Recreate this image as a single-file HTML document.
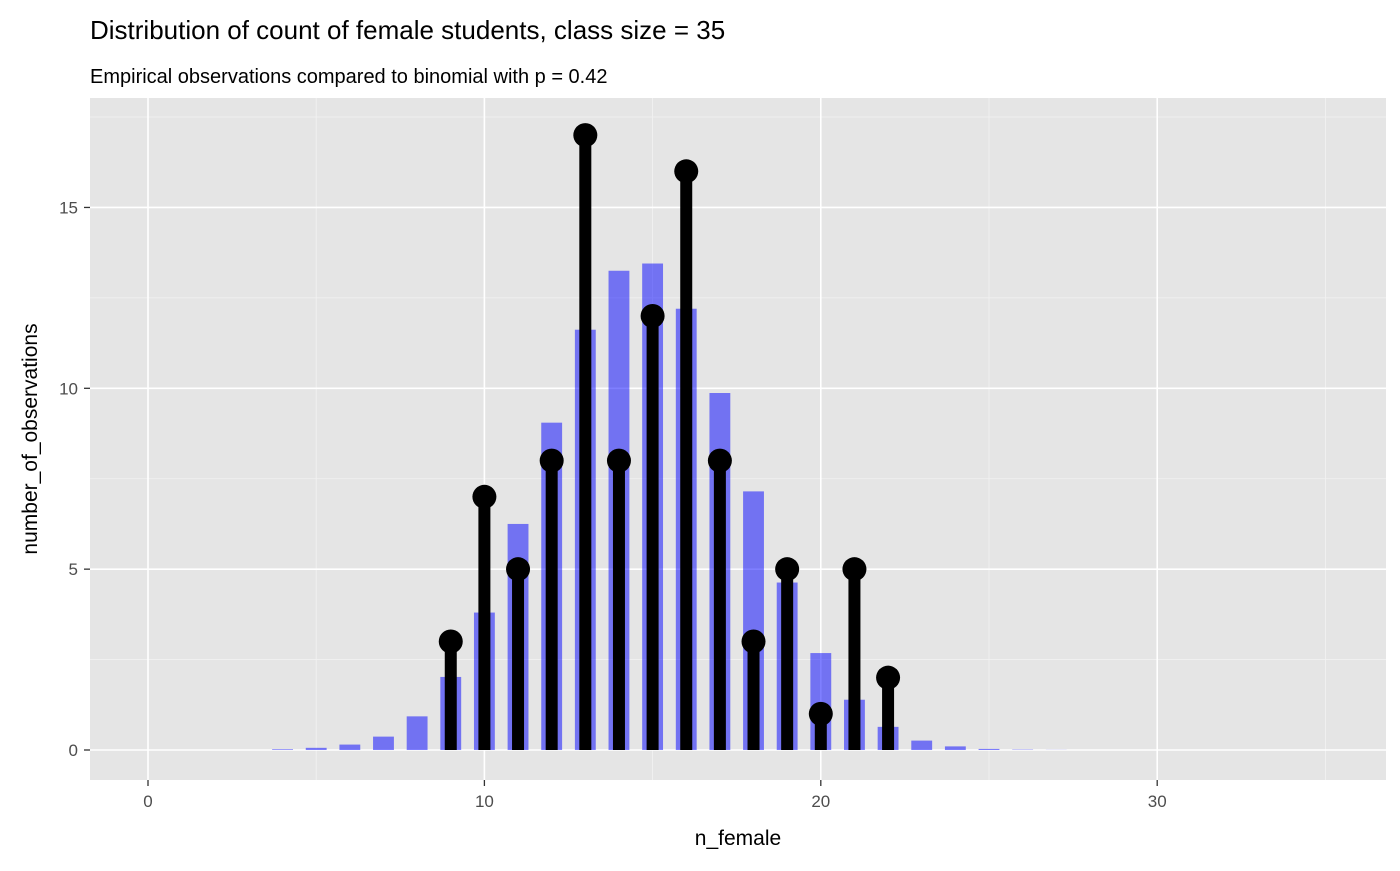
<!DOCTYPE html>
<html><head><meta charset="utf-8"><style>
body{margin:0;background:#fff;font-family:"Liberation Sans",Arial,sans-serif;}
</style></head><body>
<svg id="chart" width="1400" height="866" xmlns="http://www.w3.org/2000/svg">
<text x="90" y="39" font-size="26" fill="#000">Distribution of count of female students, class size = 35</text>
<text x="90" y="83" font-size="20" fill="#000">Empirical observations compared to binomial with p = 0.42</text>
<rect x="90" y="98" width="1296" height="682" fill="#e5e5e5"/>
<g id="grid"></g><g id="bars"></g><g id="lolli"></g><g id="axes"></g>
<text x="738" y="845" font-size="21" text-anchor="middle" fill="#000">n_female</text>
<text transform="translate(37,439) rotate(-90)" font-size="21" text-anchor="middle" fill="#000">number_of_observations</text>
</svg>
<script>
const binomX=[4,5,6,7,8,9,10,11,12,13,14,15,16,17,18,19,20,21,22,23,24,25,26,27];
const binomY=[0.02,0.06,0.15,0.37,0.93,2.02,3.8,6.25,9.05,11.62,13.25,13.45,12.2,9.87,7.15,4.63,2.68,1.39,0.64,0.26,0.1,0.03,0.01,0.003];
const obsX=[9,10,11,12,13,14,15,16,17,18,19,20,21,22];
const obsY=[3,7,5,8,17,8,12,16,8,3,5,1,5,2];
const xTicks=[0,10,20,30];
const yTicks=[0,5,10,15];
const NS="http://www.w3.org/2000/svg";
const X=v=>148+v*33.64;
const Y=v=>750-v*36.17;
function mk(p,t,a){const e=document.createElementNS(NS,t);for(const k in a)e.setAttribute(k,a[k]);document.getElementById(p).appendChild(e);return e;}
[5,15,25,35].forEach(v=>{const e=mk('grid','line',{x1:X(v),x2:X(v),y1:98,y2:780,stroke:'#f2f2f2','stroke-width':0.8});

});
[2.5,7.5,12.5,17.5].forEach(v=>{const e=mk('grid','line',{x1:90,x2:1386,y1:Y(v),y2:Y(v),stroke:'#f2f2f2','stroke-width':0.8});

});
xTicks.forEach(v=>{const e=mk('grid','line',{x1:X(v),x2:X(v),y1:98,y2:780,stroke:'#fff','stroke-width':1.6});


const t=mk('axes','line',{x1:X(v),x2:X(v),y1:780,y2:786,stroke:'#333','stroke-width':1.3});


const l=mk('axes','text',{x:X(v),y:807,'font-size':17,'text-anchor':'middle',fill:'#4d4d4d'});l.textContent=v;

});
yTicks.forEach(v=>{const e=mk('grid','line',{x1:90,x2:1386,y1:Y(v),y2:Y(v),stroke:'#fff','stroke-width':1.6});


const t=mk('axes','line',{x1:84,x2:90,y1:Y(v),y2:Y(v),stroke:'#333','stroke-width':1.3});


const l=mk('axes','text',{x:78,y:Y(v)+6,'font-size':17,'text-anchor':'end',fill:'#4d4d4d'});l.textContent=v;

});
binomX.forEach((v,i)=>{const w=0.62*33.64;const e=mk('bars','rect',{x:X(v)-w/2,y:Y(binomY[i]),width:w,height:Y(0)-Y(binomY[i]),fill:'#0000ff','fill-opacity':0.5});

});
obsX.forEach((v,i)=>{const l=mk('lolli','line',{x1:X(v),x2:X(v),y1:Y(0),y2:Y(obsY[i]),stroke:'#000','stroke-width':12});


const c=mk('lolli','circle',{cx:X(v),cy:Y(obsY[i]),r:12,fill:'#000'});

});
</script>
</body></html>
